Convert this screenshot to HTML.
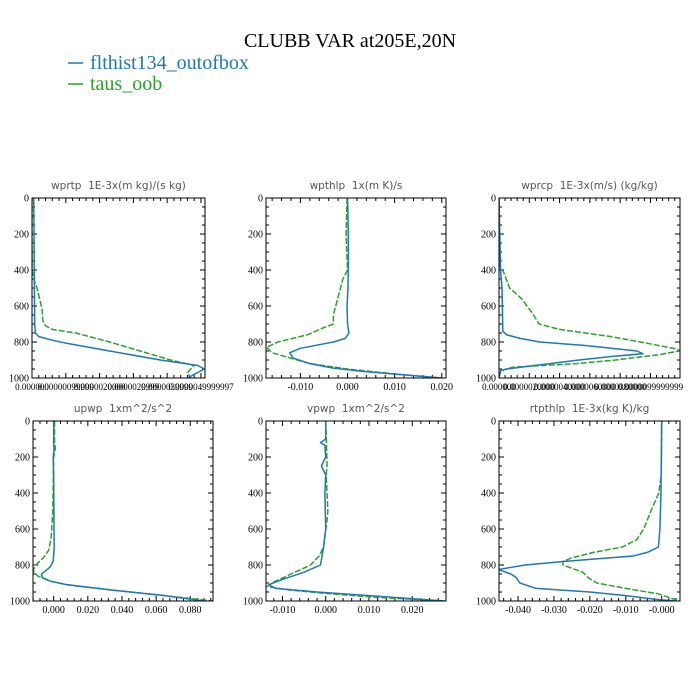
<!DOCTYPE html>
<html><head><meta charset="utf-8"><style>
html,body{margin:0;padding:0;background:#fff;}
svg{display:block;}
.pt{white-space:pre;}
</style></head><body>
<svg id="fig" width="700" height="700" viewBox="0 0 700 700" xmlns="http://www.w3.org/2000/svg">
<rect width="700" height="700" fill="#fff"/>
<text x="350" y="47" text-anchor="middle" font-family="Liberation Serif, serif" font-size="20">CLUBB VAR at205E,20N</text>
<g>
<line x1="68" y1="63" x2="83" y2="63" stroke="#1f77b4" stroke-width="1.5"/>
<text x="90" y="69" font-family="Liberation Serif, serif" font-size="20" fill="#1f77b4">flthist134_outofbox</text>
<line x1="68" y1="84" x2="83" y2="84" stroke="#2ca02c" stroke-width="1.5"/>
<text x="90" y="90" font-family="Liberation Serif, serif" font-size="20" fill="#2ca02c">taus_oob</text>
</g>
<g id="panels"></g>
</svg>
<script>
const yTicks = [0, 200, 400, 600, 800, 1000];
const panelTitles = ["wprtp  1E-3x(m kg)/(s kg)", "wpthlp  1x(m K)/s", "wprcp  1E-3x(m/s) (kg/kg)", "upwp  1xm^2/s^2", "vpwp  1xm^2/s^2", "rtpthlp  1E-3x(kg K)/kg"];
const xTicks1 = [0, 1, 2, 3, 4, 5];
const xLabels1 = ["0.000000", "0.00000099999", "0.0000020000", "0.0000029999", "0.0000039999", "0.0000049999997"];
const xTicks2 = [-0.01, 0, 0.01, 0.02];
const xLabels2 = ["-0.010", "0.000", "0.010", "0.020"];
const xTicks3 = [0, 2, 4, 6, 8, 10];
const xLabels3 = ["0.000000", "0.0000020000", "0.0000040000", "0.0000060000", "0.0000080000", "0.0000099999999"];
const xTicks4 = [0, 0.02, 0.04, 0.06, 0.08];
const xLabels4 = ["0.000", "0.020", "0.040", "0.060", "0.080"];
const xTicks5 = [-0.01, 0, 0.01, 0.02];
const xLabels5 = ["-0.010", "0.000", "0.010", "0.020"];
const xTicks6 = [-0.04, -0.03, -0.02, -0.01, 0];
const xLabels6 = ["-0.040", "-0.030", "-0.020", "-0.010", "-0.000"];

const wprtpBlue = [[0,0.05],[700,0.08],[750,0.1],[770,0.2],[790,0.6],[810,1.1],[850,2.3],[900,3.8],[930,4.9],[950,5.1],[970,4.9],[1000,4.6]];
const wprtpGreen = [[0,0],[400,0],[450,0.05],[500,0.15],[580,0.25],[620,0.3],[680,0.32],[710,0.4],[730,0.6],[750,1.3],[800,2.3],[850,3.2],[900,4.1],[930,4.8],[950,4.7],[970,4.6],[1000,4.7]];
const wpthlpBlue = [[0,0],[100,0.0001],[300,0.0002],[500,0.0001],[600,-0.0001],[700,0],[750,0.0003],[780,-0.0005],[800,-0.003],[815,-0.006],[835,-0.010],[860,-0.0123],[890,-0.0115],[920,-0.008],[945,-0.003],[965,0.004],[985,0.013],[1000,0.020]];
const wpthlpGreen = [[0,-0.0001],[200,-0.0003],[400,0],[450,-0.001],[550,-0.002],[600,-0.0025],[650,-0.003],[700,-0.003],[725,-0.0055],[760,-0.0085],[800,-0.0148],[830,-0.0172],[860,-0.016],[890,-0.012],[920,-0.008],[950,0],[980,0.011],[1000,0.020]];
const wprcpBlue = [[0,0],[400,0.1],[500,0.2],[740,0.25],[760,0.5],[780,1.4],[800,2.7],[820,5.8],[850,9.1],[865,9.5],[880,7.5],[900,5.3],[930,2.4],[950,0.5],[960,0.1],[1000,0]];
const wprcpGreen = [[0,0],[370,0],[400,0.25],[500,0.7],[560,1.5],[600,1.85],[640,2.2],[700,2.65],[730,4.0],[770,7.4],[800,9.35],[840,11.8],[850,11.9],[870,10.6],[900,7.7],[920,5.1],[940,0.9],[960,0.1],[1000,0]];
const upwpBlue = [[0,0],[140,0],[150,0.0003],[200,-0.0003],[300,0],[600,0.0002],[700,0.0003],[780,-0.0003],[810,-0.002],[835,-0.005],[850,-0.0072],[870,-0.0065],[890,-0.002],[910,0.008],[940,0.035],[970,0.065],[1000,0.088]];
const upwpGreen = [[0,0.0005],[120,0.0005],[150,0.001],[200,0],[500,-0.0005],[650,-0.0015],[720,-0.003],[760,-0.006],[800,-0.0105],[830,-0.0121],[860,-0.0095],[890,-0.002],[910,0.008],[940,0.035],[970,0.065],[1000,0.093]];
const vpwpBlue = [[0,0],[100,0],[120,-0.0012],[135,-0.0002],[200,0],[250,-0.001],[300,0],[400,-0.0002],[600,0],[700,-0.0005],[800,-0.0012],[840,-0.005],[880,-0.01],[910,-0.0132],[930,-0.0115],[950,-0.002],[970,0.010],[1000,0.0275]];
const vpwpGreen = [[0,0],[150,0.0002],[250,0.0003],[300,0.0001],[500,0.0005],[550,0.0003],[700,-0.0005],[750,-0.0015],[800,-0.0035],[850,-0.008],[900,-0.0125],[920,-0.0135],[940,-0.008],[960,0.001],[980,0.012],[1000,0.0278]];
const rtpthlpBlue = [[0,0],[400,-0.0002],[600,-0.0005],[700,-0.0009],[730,-0.004],[750,-0.008],[780,-0.027],[800,-0.038],[825,-0.0455],[850,-0.042],[870,-0.0405],[900,-0.0395],[930,-0.035],[950,-0.02],[970,-0.01],[990,-0.002],[1000,0.004]];
const rtpthlpGreen = [[0,0],[300,-0.0001],[400,-0.0008],[500,-0.003],[600,-0.005],[660,-0.007],[700,-0.011],[730,-0.019],[760,-0.025],[780,-0.0275],[800,-0.0275],[840,-0.022],[870,-0.0205],[900,-0.018],[930,-0.01],[960,-0.001],[1000,0.005]];

const NS = "http://www.w3.org/2000/svg";
const root = document.getElementById("panels");
function mk(tag, attrs, parent) {
  const e = document.createElementNS(NS, tag);
  for (const k in attrs) e.setAttribute(k, attrs[k]);
  parent.appendChild(e);
  return e;
}
const panels = [
  {key:"wprtp", x0:32, x1:205, y0:198, y1:378, xmin:0, xmax:5.12, xt:xTicks1, xl:xLabels1, b:wprtpBlue, g:wprtpGreen, t:panelTitles[0], lf:9},
  {key:"wpthlp", x0:266, x1:446, y0:198, y1:378, xmin:-0.0173, xmax:0.0209, xt:xTicks2, xl:xLabels2, b:wpthlpBlue, g:wpthlpGreen, t:panelTitles[1], lf:10},
  {key:"wprcp", x0:499, x1:680, y0:198, y1:378, xmin:0, xmax:11.95, xt:xTicks3, xl:xLabels3, b:wprcpBlue, g:wprcpGreen, t:panelTitles[2], lf:9},
  {key:"upwp", x0:33, x1:213, y0:421, y1:601, xmin:-0.0121, xmax:0.0933, xt:xTicks4, xl:xLabels4, b:upwpBlue, g:upwpGreen, t:panelTitles[3], lf:10},
  {key:"vpwp", x0:266, x1:446, y0:421, y1:601, xmin:-0.0138, xmax:0.0278, xt:xTicks5, xl:xLabels5, b:vpwpBlue, g:vpwpGreen, t:panelTitles[4], lf:10},
  {key:"rtpthlp", x0:499, x1:680, y0:421, y1:601, xmin:-0.0453, xmax:0.0051, xt:xTicks6, xl:xLabels6, b:rtpthlpBlue, g:rtpthlpGreen, t:panelTitles[5], lf:10}
];
panels.forEach(p => {
  const g = mk("g", {}, root);
  
  
  const sx = v => p.x0 + (v - p.xmin) / (p.xmax - p.xmin) * (p.x1 - p.x0);
  const sy = v => p.y0 + v / 1000 * (p.y1 - p.y0);
  const title = mk("text", {x:(p.x0+p.x1)/2, y:p.y0-9, "text-anchor":"middle", "font-family":"DejaVu Sans, sans-serif", "font-size":"10.5", fill:"#555", "class":"pt", "xml:space":"preserve"}, g);
  
  
  title.textContent = p.t;
  const cp = "clip-" + p.key;
  const defs = mk("defs", {}, g);
  const clip = mk("clipPath", {id:cp}, defs);
  mk("rect", {x:p.x0, y:p.y0, width:p.x1-p.x0, height:p.y1-p.y0}, clip);
  let tk = "";
  const step = p.xt[1] - p.xt[0];
  for (let i = -10; i < 60; i++) {
    const v = p.xt[0] + i * step / 5;
    if (v < p.xmin - 1e-12 || v > p.xmax + 1e-12) continue;
    const X = sx(v);
    const len = (i % 5 === 0) ? 5 : 3;
    tk += `M${X},${p.y1}v${-len}M${X},${p.y0}v${len}`;
  }
  for (let v = 0; v <= 1000; v += 50) {
    const Y = sy(v);
    const len = (v % 200 === 0) ? 5 : 3;
    tk += `M${p.x0},${Y}h${len}M${p.x1},${Y}h${-len}`;
  }
  const ticks = mk("path", {d:tk, stroke:"#000", "stroke-width":"1", fill:"none"}, g);
  
  
  yTicks.forEach(v => {
    const t = mk("text", {x:p.x0-3, y:sy(v)+3.5, "text-anchor":"end", "font-family":"Liberation Serif, serif", "font-size":"10"}, g);
    
    
    t.textContent = String(v);
  });
  p.xt.forEach((v, i) => {
    const t = mk("text", {x:sx(v), y:p.y1+12, "text-anchor":"middle", "font-family":"Liberation Serif, serif", "font-size":p.lf}, g);
    
    
    t.textContent = p.xl[i];
  });
  const line = (data, color, dash, name) => {
    const d = data.map((q, i) => (i ? "L" : "M") + sx(q[1]).toFixed(2) + "," + sy(q[0]).toFixed(2)).join("");
    const a = {d:d, stroke:color, "stroke-width":"1.5", fill:"none", "clip-path":`url(#${cp})`, "stroke-linejoin":"round"};
    if (dash) a["stroke-dasharray"] = "6,2";
    const el = mk("path", a, g);
    
    
  };
  line(p.g, "#2ca02c", true, p.key + '-taus-oob-line');
  line(p.b, "#1f77b4", false, p.key + '-flthist134-line');
  const fr = mk("rect", {x:p.x0, y:p.y0, width:p.x1-p.x0, height:p.y1-p.y0, fill:"none", stroke:"#000", "stroke-width":"1"}, g);
  
  
});
</script>
</body></html>
